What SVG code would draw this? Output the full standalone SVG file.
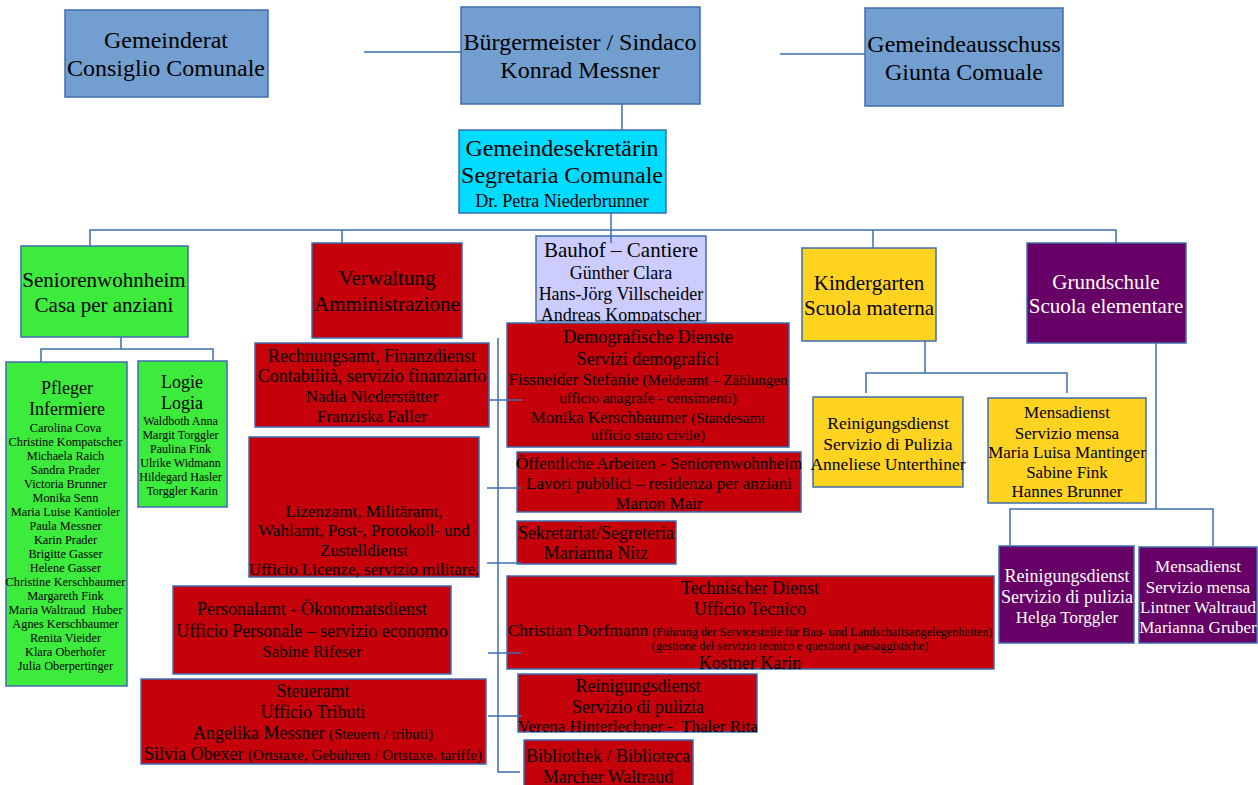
<svg xmlns="http://www.w3.org/2000/svg" width="1258" height="785" viewBox="0 0 1258 785">
<style>
rect{stroke:#3e6db0;stroke-width:1.5}
.blue{fill:#729fcf}.cyan{fill:#00dcff}.green{fill:#3deb3d}.red{fill:#c5000b}.lav{fill:#ccccff}.yel{fill:#ffd320}.pur{fill:#660066}
text{font-family:"Liberation Serif","Times New Roman",serif;text-anchor:middle;fill:#000}
.w{fill:#fff}
.pre{white-space:pre}
#connectors path{fill:none;stroke:#3e6db0;stroke-width:1.5}
</style>
<defs>
<clipPath id="cBau"><rect x="536" y="236" width="170" height="85"/></clipPath>
<clipPath id="cTech"><rect x="507" y="576" width="487" height="93"/></clipPath>
<clipPath id="cRein"><rect x="518" y="674" width="239" height="58"/></clipPath>
<clipPath id="cLiz"><rect x="249" y="437" width="230" height="140"/></clipPath>
</defs>

<g id="gemeinderat">
<rect class="blue" x="65" y="10" width="203" height="87"/>
<text font-size="24"><tspan x="166" y="48">Gemeinderat</tspan><tspan x="166" y="76">Consiglio Comunale</tspan></text>
</g>
<g id="buergermeister">
<rect class="blue" x="461" y="7" width="239" height="97"/>
<text font-size="24"><tspan x="580" y="50">Bürgermeister / Sindaco</tspan><tspan x="580" y="78">Konrad Messner</tspan></text>
</g>
<g id="gemeindeausschuss">
<rect class="blue" x="865" y="8" width="198" height="98"/>
<text font-size="24"><tspan x="964" y="52">Gemeindeausschuss</tspan><tspan x="964" y="80">Giunta Comuale</tspan></text>
</g>
<g id="sekretaerin">
<rect class="cyan" x="459" y="130" width="207" height="83"/>
<text font-size="24"><tspan x="562" y="156">Gemeindesekretärin</tspan><tspan x="562" y="183">Segretaria Comunale</tspan></text>
<text font-size="18" x="562" y="207">Dr. Petra Niederbrunner</text>
</g>

<g id="seniorenwohnheim">
<rect class="green" x="21" y="246" width="167" height="91"/>
<text font-size="21"><tspan x="104" y="287">Seniorenwohnheim</tspan><tspan x="104" y="312">Casa per anziani</tspan></text>
</g>
<g id="pfleger">
<rect class="green" x="6" y="362" width="121" height="324"/>
<text font-size="18"><tspan x="67" y="394">Pfleger</tspan><tspan x="67" y="415">Infermiere</tspan></text>
<text font-size="12.3" class="pre">
<tspan x="67" y="432">Carolina Cova</tspan>
<tspan x="67" y="446">Christine Kompatscher</tspan>
<tspan x="67" y="460">Michaela Raich</tspan>
<tspan x="67" y="474">Sandra Prader</tspan>
<tspan x="67" y="488">Victoria Brunner</tspan>
<tspan x="67" y="502">Monika Senn</tspan>
<tspan x="67" y="516">Maria Luise Kantioler</tspan>
<tspan x="67" y="530">Paula Messner</tspan>
<tspan x="67" y="544">Karin Prader</tspan>
<tspan x="67" y="558">Brigitte Gasser</tspan>
<tspan x="67" y="572">Helene Gasser</tspan>
<tspan x="67" y="586">Christine Kerschbaumer</tspan>
<tspan x="67" y="600">Margareth Fink</tspan>
<tspan x="67" y="614">Maria Waltraud  Huber</tspan>
<tspan x="67" y="628">Agnes Kerschbaumer</tspan>
<tspan x="67" y="642">Renita Vieider</tspan>
<tspan x="67" y="656">Klara Oberhofer</tspan>
<tspan x="67" y="670">Julia Oberpertinger</tspan>
</text>
</g>
<g id="logie">
<rect class="green" x="138" y="361" width="89" height="146"/>
<text font-size="18"><tspan x="182" y="388">Logie</tspan><tspan x="182" y="409">Logia</tspan></text>
<text font-size="12">
<tspan x="182" y="425">Waldboth Anna</tspan>
<tspan x="182" y="439">Margit Torggler</tspan>
<tspan x="182" y="453">Paulina Fink</tspan>
<tspan x="182" y="467">Ulrike Widmann</tspan>
<tspan x="182" y="481">Hildegard Hasler</tspan>
<tspan x="182" y="495">Torggler Karin</tspan>
</text>
</g>

<g id="verwaltung">
<rect class="red" x="312" y="243" width="150" height="95"/>
<text font-size="21"><tspan x="387" y="285">Verwaltung</tspan><tspan x="387" y="311">Amministrazione</tspan></text>
</g>
<g id="rechnungsamt">
<rect class="red" x="255" y="343" width="234" height="84"/>
<text font-size="18"><tspan x="372" y="362">Rechnungsamt, Finanzdienst</tspan><tspan x="372" y="382">Contabilità, servizio finanziario</tspan></text>
<text font-size="17"><tspan x="372" y="402">Nadia Niederstätter</tspan><tspan x="372" y="422">Franziska Faller</tspan></text>
</g>
<g id="bauhof">
<rect class="lav" x="536" y="236" width="170" height="85"/>
<g clip-path="url(#cBau)">
<text font-size="21" x="621" y="257">Bauhof – Cantiere</text>
<text font-size="18"><tspan x="621" y="279">Günther Clara</tspan><tspan x="621" y="300">Hans-Jörg Villscheider</tspan><tspan x="621" y="321">Andreas Kompatscher</tspan></text>
</g>
</g>
<g id="demografische">
<rect class="red" x="507" y="323" width="282" height="124"/>
<text font-size="18"><tspan x="648" y="343">Demografische Dienste</tspan><tspan x="648" y="365">Servizi demografici</tspan></text>
<text font-size="17" x="648" y="385">Fissneider Stefanie <tspan font-size="15">(Meldeamt – Zählungen</tspan></text>
<text font-size="15" x="648" y="403">ufficio anagrafe - censimenti)</text>
<text font-size="17" x="648" y="423">Monika Kerschbaumer <tspan font-size="15">(Standesamt</tspan></text>
<text font-size="15" x="648" y="440">ufficio stato civile)</text>
</g>
<g id="lizenzamt">
<rect class="red" x="249" y="437" width="230" height="140"/>
<text font-size="17" clip-path="url(#cLiz)"><tspan x="364" y="517">Lizenzamt, Militäramt,</tspan><tspan x="364" y="536">Wahlamt, Post-, Protokoll- und</tspan><tspan x="364" y="556">Zustelldienst</tspan><tspan x="364" y="575">Ufficio Licenze, servizio militare,</tspan></text>
</g>
<g id="oeffentliche">
<rect class="red" x="517" y="452" width="284" height="60"/>
<text font-size="17"><tspan x="659" y="469">Öffentliche Arbeiten - Seniorenwohnheim</tspan><tspan x="659" y="489">Lavori pubblici – residenza per anziani</tspan><tspan x="659" y="509">Marion Mair</tspan></text>
</g>
<g id="sekretariat">
<rect class="red" x="517" y="521" width="159" height="43"/>
<text font-size="18"><tspan x="596" y="539">Sekretariat/Segreteria</tspan><tspan x="596" y="559">Marianna Nitz</tspan></text>
</g>
<g id="technischer">
<rect class="red" x="507" y="576" width="487" height="93"/>
<g clip-path="url(#cTech)">
<text font-size="18"><tspan x="750" y="594">Technischer Dienst</tspan><tspan x="750" y="615">Ufficio Tecnico</tspan></text>
<text font-size="17.5" x="750" y="636">Christian Dorfmann <tspan font-size="12.2">(Führung der Servicestelle für Bau- und Landschaftsangelegenheiten)</tspan></text>
<text font-size="12.2" x="790" y="650">(gestione del servizio tecnico e questioni paesaggistiche)</text>
<text font-size="18" x="750" y="669">Kostner Karin</text>
</g>
</g>
<g id="personalamt">
<rect class="red" x="173" y="586" width="278" height="88"/>
<text font-size="18"><tspan x="312" y="615">Personalamt - Ökonomatsdienst</tspan><tspan x="312" y="637">Ufficio Personale – servizio economo</tspan></text>
<text font-size="17" x="312" y="657">Sabine Rifeser</text>
</g>
<g id="steueramt">
<rect class="red" x="141" y="679" width="345" height="85"/>
<text font-size="18"><tspan x="313" y="697">Steueramt</tspan><tspan x="313" y="718">Ufficio Tributi</tspan></text>
<text font-size="18" x="313" y="739">Angelika Messner <tspan font-size="15">(Steuern / tributi)</tspan></text>
<text font-size="18" x="313" y="760">Silvia Obexer <tspan font-size="15">(Ortstaxe, Gebühren / Ortstaxe, tariffe)</tspan></text>
</g>
<g id="reinigung-verwaltung">
<rect class="red" x="518" y="674" width="239" height="58"/>
<g clip-path="url(#cRein)">
<text font-size="18"><tspan x="638" y="692">Reinigungsdienst</tspan><tspan x="638" y="713">Servizio di pulizia</tspan></text>
<text font-size="17" x="638" y="732" class="pre">Verena Hinterlechner -  Thaler Rita</text>
</g>
</g>
<g id="bibliothek">
<rect class="red" x="524" y="740" width="169" height="50"/>
<text font-size="18"><tspan x="608" y="762">Bibliothek / Biblioteca</tspan><tspan x="608" y="783">Marcher Waltraud</tspan></text>
</g>

<g id="kindergarten">
<rect class="yel" x="802" y="248" width="134" height="93"/>
<text font-size="21"><tspan x="869" y="290">Kindergarten</tspan><tspan x="869" y="315">Scuola materna</tspan></text>
</g>
<g id="reinigung-kindergarten">
<rect class="yel" x="813" y="397" width="150" height="90"/>
<text font-size="17.5"><tspan x="888" y="429">Reinigungsdienst</tspan><tspan x="888" y="450">Servizio di Pulizia</tspan><tspan x="888" y="470">Anneliese Unterthiner</tspan></text>
</g>
<g id="mensa-kindergarten">
<rect class="yel" x="988" y="398" width="158" height="105"/>
<text font-size="17"><tspan x="1067" y="418">Mensadienst</tspan><tspan x="1067" y="439">Servizio mensa</tspan><tspan x="1067" y="458">Maria Luisa Mantinger</tspan><tspan x="1067" y="478">Sabine Fink</tspan><tspan x="1067" y="497">Hannes Brunner</tspan></text>
</g>
<g id="grundschule">
<rect class="pur" x="1027" y="243" width="159" height="100"/>
<text font-size="21" class="w"><tspan x="1106" y="289">Grundschule</tspan><tspan x="1106" y="313">Scuola elementare</tspan></text>
</g>
<g id="reinigung-grundschule">
<rect class="pur" x="999" y="546" width="135" height="97"/>
<text font-size="18" class="w"><tspan x="1067" y="582">Reinigungsdienst</tspan><tspan x="1067" y="603">Servizio di pulizia</tspan></text>
<text font-size="17" class="w" x="1067" y="623">Helga Torggler</text>
</g>
<g id="mensa-grundschule">
<rect class="pur" x="1139" y="547" width="118" height="96"/>
<text font-size="17" class="w"><tspan x="1198" y="572">Mensadienst</tspan><tspan x="1198" y="593">Servizio mensa</tspan><tspan x="1198" y="613">Lintner Waltraud</tspan><tspan x="1198" y="633">Marianna Gruber</tspan></text>
</g>

<g id="connectors">
<path d="M364 52H461"/>
<path d="M780 54H865"/>
<path d="M622 104V130"/>
<path d="M611 213V243"/>
<path d="M90 246V230H1116V243"/>
<path d="M342 230V243"/>
<path d="M873 230V248"/>
<path d="M121 337V349"/>
<path d="M41 362V349H213V360"/>
<path d="M498 338V772H520"/>
<path d="M489 400H522"/>
<path d="M487 488H521"/>
<path d="M487 563H521"/>
<path d="M488 653H521"/>
<path d="M488 716H522"/>
<path d="M925 341V373"/>
<path d="M866 393V373H1067V393"/>
<path d="M1156 343V509"/>
<path d="M1010 545V509H1213V546"/>
</g>
</svg>
